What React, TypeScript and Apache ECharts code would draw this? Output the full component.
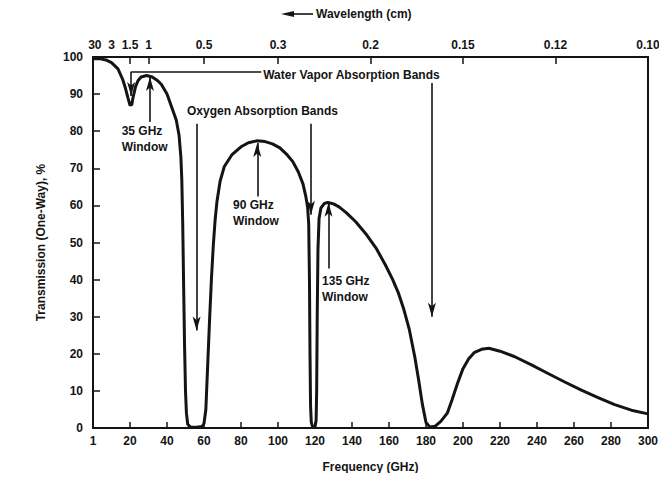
import React, { useEffect, useRef } from "react";
import * as echarts from "echarts";

// Frequency (GHz) and one-way transmission (%)
const frequencyGHz = [
  0, 4, 7, 10, 13.5, 16, 17.3, 18.9, 20, 21, 21.6, 23, 24.3, 26, 29, 32, 35, 37, 40, 42.5,
  45, 46.5, 47.5, 48, 48.5, 49, 49.5, 50, 50.5, 51.2, 52.5, 56, 59, 60, 61, 62, 63, 64, 65, 66,
  67, 68.7, 71, 75, 80, 84, 88.5, 93, 97, 101, 105, 108, 111, 113.5, 115, 116, 116.6, 117, 117.3, 117.6,
  118, 118.7, 120, 120.6, 120.9, 121.2, 121.6, 122.2, 123.2, 125, 127, 130, 133, 137, 142, 148, 153, 158, 162, 165,
  168, 171, 174, 176, 178, 180, 182, 185, 188, 191.5, 194, 197, 200, 203, 206, 210, 214, 220, 228, 237,
  246, 255, 264, 273, 282, 291, 300,
];
const transmissionPct = [
  99.5, 99.5, 99.2, 98.5, 96.8, 94, 92, 89, 87, 87.2, 89, 92, 93.6, 94.6, 95, 94.6, 93.6, 92.6, 90, 86.5,
  83, 79, 73, 67, 55, 38, 22, 10, 4, 1, 0.3, 0.2, 0.4, 1.2, 5, 17, 29, 40, 49, 56,
  61, 66.5, 70.5, 73.6, 75.8, 76.9, 77.4, 77.2, 76.6, 75.5, 73.6, 71.8, 69, 65.8, 62.5, 59.5, 55, 40, 20, 6,
  1.5, 0.3, 0.3, 2, 10, 30, 48, 56.5, 59.3, 60.5, 60.8, 60.4, 59.6, 58, 55.6, 52, 48.5, 44, 40, 36.5,
  32, 26.5, 19, 13, 6.5, 1.5, 0.3, 0.5, 1.8, 4, 7.5, 12, 16, 18.6, 20.3, 21.2, 21.5, 20.7, 19.2, 17,
  14.7, 12.4, 10.2, 8.2, 6.3, 4.8, 3.8,
];

// Top axis: wavelength labels (cm); position = 30 / wavelength GHz
const wavelengthLabels = ["30", "3", "1.5", "1", "0.5", "0.3", "0.2", "0.15", "0.12", "0.10"];
const wavelengthTickLabels = ["1.5", "1", "0.5", "0.3", "0.2", "0.15", "0.12", "0.10"];

// Annotation arrows in data coords [GHz, %]: from -> to (arrowhead at "to")
const arrowFrom = [[20.6, 96], [183.2, 93], [56, 82], [117.8, 82], [30.8, 82.5], [88.8, 62.4], [127.3, 43]];
const arrowTo = [[20.6, 89.5], [183.2, 30], [56, 26.3], [117.8, 57.5], [30.8, 94.6], [88.8, 76.8], [127.3, 60.7]];
const leaderFrom = [[20.6, 96]];
const leaderTo = [[91, 96]];

const noteTexts = ["Water Vapor Absorption Bands", "Oxygen Absorption Bands", "35 GHz\nWindow", "90 GHz\nWindow", "135 GHz\nWindow"];
const noteAt = [[92, 95.2], [50.8, 85.5], [15.5, 78], [75.7, 58], [123.8, 37.6]];

const FONT = "Liberation Sans";
const INK = "#141414";

export default function App() {
  const ref = useRef<HTMLDivElement>(null);
  useEffect(() => {
    const chart = echarts.init(ref.current!, null, { renderer: "svg" });
    const toFreq = (w: string) => Math.round((30 / parseFloat(w)) * 1000) / 1000;
    const labelMap: Record<string, string> = {};
    wavelengthLabels.forEach((w) => (labelMap[String(toFreq(w))] = w));

    chart.setOption({
      animation: false,
      backgroundColor: "#ffffff",
      textStyle: { fontFamily: FONT },
      grid: { left: 93, right: 19, top: 57, bottom: 53, show: true, borderColor: INK, borderWidth: 2 },
      xAxis: [
        {
          type: "value",
          min: 0,
          max: 300,
          interval: 20,
          position: "bottom",
          axisLine: { show: true, lineStyle: { color: INK, width: 2 } },
          axisTick: { show: true, inside: true, length: 6, lineStyle: { color: INK, width: 1.5 } },
          splitLine: { show: false },
          axisLabel: {
            color: INK,
            fontSize: 12,
            fontWeight: "bold",
            fontFamily: FONT,
            margin: 7,
            formatter: (v: number) => (v === 0 ? "1" : String(v)),
          },
          name: "Frequency (GHz)",
          nameLocation: "middle",
          nameGap: 33,
          nameTextStyle: { color: INK, fontSize: 12, fontWeight: "bold", fontFamily: FONT },
        },
        {
          type: "value",
          min: 0,
          max: 300,
          position: "top",
          axisLine: { show: true, lineStyle: { color: INK, width: 2 } },
          axisTick: {
            show: true,
            inside: true,
            length: 7,
            lineStyle: { color: INK, width: 1.5 },
            customValues: wavelengthTickLabels.map(toFreq),
          },
          splitLine: { show: false },
          axisLabel: {
            color: INK,
            fontSize: 12,
            fontWeight: "bold",
            fontFamily: FONT,
            margin: 6,
            customValues: wavelengthLabels.map(toFreq),
            formatter: (v: number) => labelMap[String(Math.round(v * 1000) / 1000)] ?? "",
          },
        },
      ],
      yAxis: {
        type: "value",
        min: 0,
        max: 100,
        interval: 10,
        axisLine: { show: true, lineStyle: { color: INK, width: 2 } },
        axisTick: { show: true, inside: true, length: 7, lineStyle: { color: INK, width: 1.5 } },
        splitLine: { show: false },
        axisLabel: { color: INK, fontSize: 12, fontWeight: "bold", fontFamily: FONT, margin: 10 },
        name: "Transmission (One-Way), %",
        nameLocation: "middle",
        nameRotate: 90,
        nameGap: 46,
        nameTextStyle: { color: INK, fontSize: 12, fontWeight: "bold", fontFamily: FONT },
      },
      series: [
        {
          type: "line",
          data: frequencyGHz.map((f, i) => [f, transmissionPct[i]]),
          showSymbol: false,
          smooth: false,
          clip: false,
          lineStyle: { color: INK, width: 3 },
          z: 3,
        },
        {
          type: "line",
          data: [],
          markLine: {
            silent: true,
            animation: false,
            symbol: ["none", "arrow"],
            symbolSize: [6, 14],
            label: { show: false },
            lineStyle: { color: INK, width: 1.6, type: "solid" },
            data: arrowFrom.map((a, i) => [{ coord: a }, { coord: arrowTo[i] }]),
          },
        },
        {
          type: "line",
          data: [],
          markLine: {
            silent: true,
            animation: false,
            symbol: ["none", "none"],
            label: { show: false },
            lineStyle: { color: INK, width: 1.6, type: "solid" },
            data: leaderFrom.map((a, i) => [{ coord: a }, { coord: leaderTo[i] }]),
          },
        },
      ],
    });

    const notes = noteTexts.map((t, i) => {
      const [px, py] = chart.convertToPixel({ gridIndex: 0 }, noteAt[i]) as number[];
      return {
        type: "text",
        x: px,
        y: py,
        style: {
          text: t,
          fill: INK,
          fontSize: 12,
          fontWeight: "bold",
          fontFamily: FONT,
          align: "left",
          verticalAlign: "middle",
          lineHeight: 16,
        },
        z: 10,
      };
    });

    chart.setOption({
      graphic: [
        ...notes,
        { type: "line", shape: { x1: 288, y1: 14, x2: 313, y2: 14 }, style: { stroke: INK, lineWidth: 1.6 } },
        { type: "polygon", shape: { points: [[281, 14], [294, 11], [294, 17]] }, style: { fill: INK } },
        {
          type: "text",
          x: 316,
          y: 14,
          style: { text: "Wavelength (cm)", fill: INK, fontSize: 12, fontWeight: "bold", fontFamily: FONT, verticalAlign: "middle" },
        },
      ],
    });

    return () => chart.dispose();
  }, []);
  return <div ref={ref} style={{ width: 667, height: 481, margin: -8 }} />;
}
